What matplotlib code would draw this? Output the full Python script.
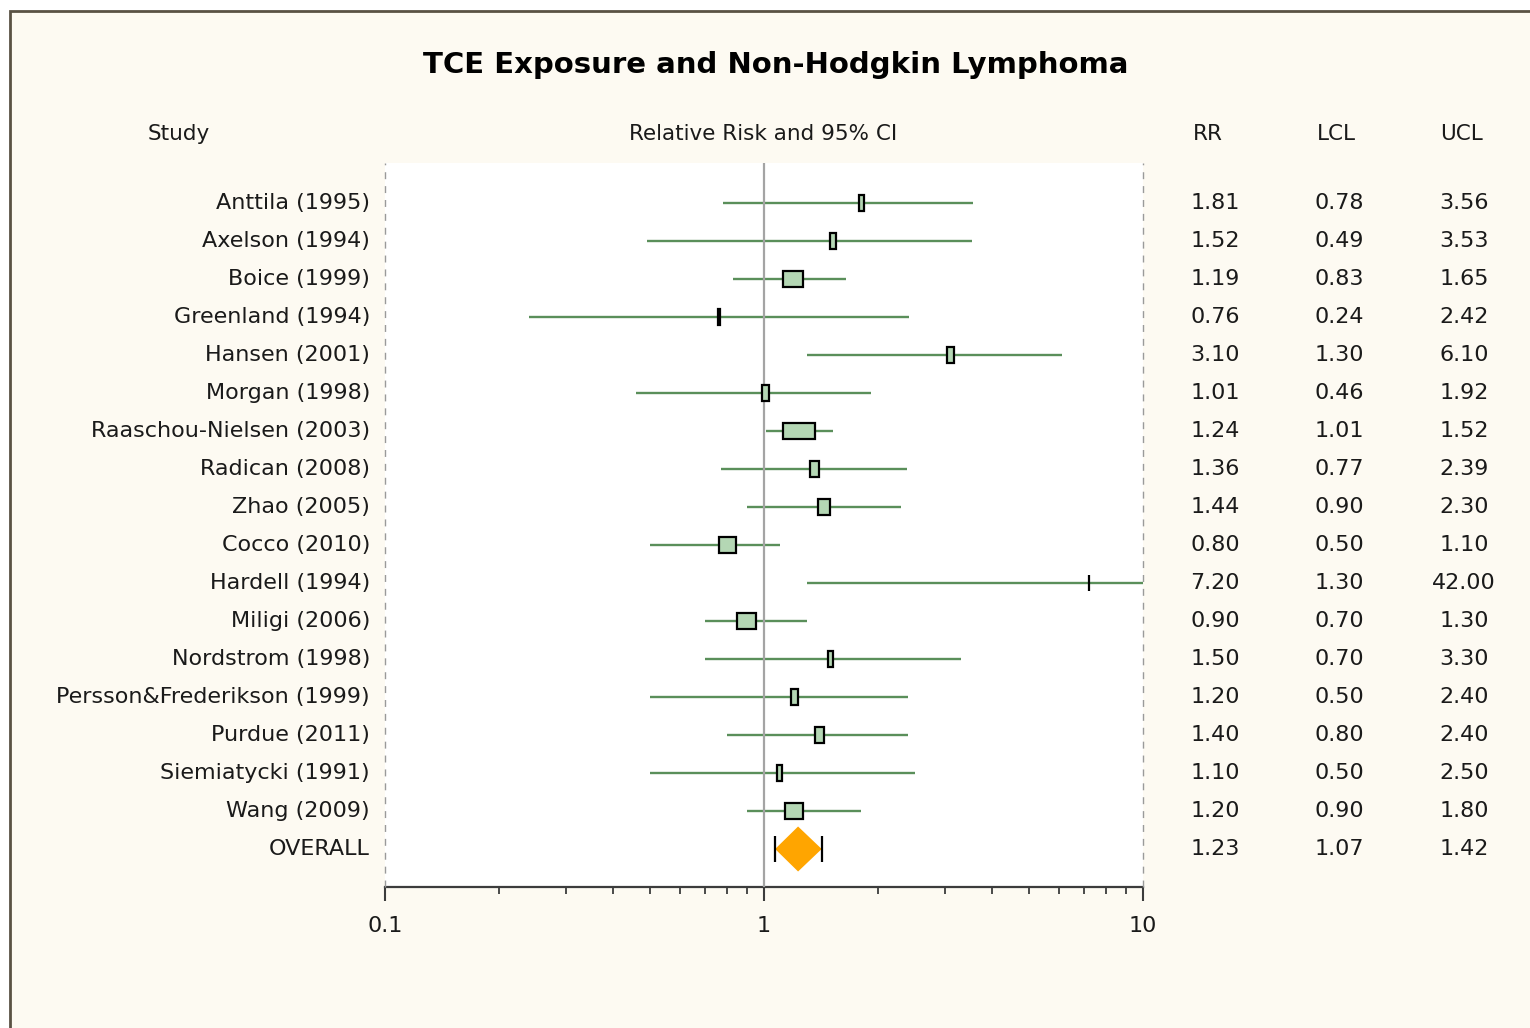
import numpy as np
import matplotlib
matplotlib.use("Agg")
import matplotlib.pyplot as plt
import matplotlib.patches as mpatches
import matplotlib.transforms as mtransforms
from matplotlib.ticker import FixedLocator, LogLocator, NullFormatter, FixedFormatter

# ---- data -------------------------------------------------------------
studies = ["Anttila (1995)", "Axelson (1994)", "Boice (1999)", "Greenland (1994)",
           "Hansen (2001)", "Morgan (1998)", "Raaschou-Nielsen (2003)", "Radican (2008)",
           "Zhao (2005)", "Cocco (2010)", "Hardell (1994)", "Miligi (2006)",
           "Nordstrom (1998)", "Persson&Frederikson (1999)", "Purdue (2011)",
           "Siemiatycki (1991)", "Wang (2009)"]
rr  = [1.81, 1.52, 1.19, 0.76, 3.10, 1.01, 1.24, 1.36, 1.44, 0.80, 7.20, 0.90,
       1.50, 1.20, 1.40, 1.10, 1.20]
lcl = [0.78, 0.49, 0.83, 0.24, 1.30, 0.46, 1.01, 0.77, 0.90, 0.50, 1.30, 0.70,
       0.70, 0.50, 0.80, 0.50, 0.90]
ucl = [3.56, 3.53, 1.65, 2.42, 6.10, 1.92, 1.52, 2.39, 2.30, 1.10, 42.00, 1.30,
       3.30, 2.40, 2.40, 2.50, 1.80]
# relative study weights (percent), used for box size
weights = [3.3, 3.6, 10.3, 2.1, 4.2, 4.2, 15.9, 5.1, 6.5, 8.9, 0.9, 9.8,
           3.3, 4.2, 5.1, 3.3, 9.3]
overall_label = "OVERALL"
overall_rr, overall_lcl, overall_ucl = 1.23, 1.07, 1.42

x_ticks = [0.1, 1, 10]
x_tick_labels = ["0.1", "1", "10"]
headers = ["Study", "Relative Risk and 95% CI", "RR", "LCL", "UCL"]
title = "TCE Exposure and Non-Hodgkin Lymphoma"

# ---- layout -----------------------------------------------------------
W, H, DPI = 1530, 1028, 100
CREAM = "#fdfaf2"
LINE_GREEN = "#5a8f5a"
BOX_GREEN = "#b4d7b4"
TEXT = "#1a1a1a"
FONT = "DejaVu Sans"
FS = 16

plt.rcParams["font.family"] = FONT

fig = plt.figure(figsize=(W / DPI, H / DPI), dpi=DPI, facecolor="white")

# cream panel with dark frame (left and top edges visible)
fig.patches.append(mpatches.Rectangle(
    (9.5 / W, -0.05), 1.2, 1 - 11 / H + 0.05, transform=fig.transFigure,
    facecolor=CREAM, edgecolor="#5a5244", linewidth=2.0, zorder=-5))

ax_l, ax_r, ax_t, ax_b = 385, 1143, 163, 887
ax = fig.add_axes([ax_l / W, 1 - ax_b / H, (ax_r - ax_l) / W, (ax_b - ax_t) / H])
ax.set_facecolor("white")

n = len(studies)
rows = np.arange(n)
overall_row = n
row_px = 38.0
first_row_px = 203
ax.set_xscale("log")
ax.set_xlim(x_ticks[0], x_ticks[-1])
ax.set_ylim((ax_b - first_row_px) / row_px, (ax_t - first_row_px) / row_px)

px_per_dec = (ax_r - ax_l) / np.log10(x_ticks[-1] / x_ticks[0])

def px_to_rows(p):
    return p / row_px

# confidence interval lines
ax.hlines(rows, lcl, ucl, color=LINE_GREEN, linewidth=1.7, zorder=2)

# reference line at RR = 1 and dashed boundary lines
ax.axvline(1, color="#a4a4a4", linewidth=1.6, zorder=3)
for xb in (x_ticks[0], x_ticks[-1]):
    ax.axvline(xb, color="#9a9a9a", linewidth=1.0, dashes=(5, 5), zorder=3,
               clip_on=False)

# weighted boxes
box_h = px_to_rows(16.5)
for r, v, w in zip(rows, rr, weights):
    wpx = max(w * 2.14 - 2.0, 0.0)
    half = wpx / 2 / px_per_dec
    x0 = v * 10 ** (-half)
    x1 = v * 10 ** (half)
    ax.add_patch(mpatches.Rectangle((x0, r - box_h / 2), x1 - x0, box_h,
                                    facecolor=BOX_GREEN, edgecolor="black",
                                    linewidth=1.6, zorder=4))

# overall diamond with CI caps
dh = px_to_rows(22.5)
ax.add_patch(mpatches.Polygon(
    [(overall_lcl, overall_row), (overall_rr, overall_row - dh),
     (overall_ucl, overall_row), (overall_rr, overall_row + dh)],
    closed=True, facecolor="orange", edgecolor="none", zorder=4))
cap = px_to_rows(13)
ax.vlines([overall_lcl, overall_ucl], overall_row - cap, overall_row + cap,
          color="black", linewidth=1.6, zorder=5)

# axes styling
for s in ("left", "right", "top"):
    ax.spines[s].set_visible(False)
ax.spines["bottom"].set_color("#3c3c3c")
ax.spines["bottom"].set_linewidth(1.6)
ax.yaxis.set_visible(False)
ax.xaxis.set_major_locator(FixedLocator(x_ticks))
ax.xaxis.set_major_formatter(FixedFormatter(x_tick_labels))
ax.xaxis.set_minor_locator(LogLocator(base=10, subs=np.arange(2, 10)))
ax.xaxis.set_minor_formatter(NullFormatter())
ax.tick_params(axis="x", which="major", length=10, width=1.5, color="#3c3c3c",
               pad=11, labelsize=FS, labelcolor=TEXT)
ax.tick_params(axis="x", which="minor", length=5, width=1.3, color="#3c3c3c")

# text columns
tr = mtransforms.blended_transform_factory(fig.transFigure, ax.transData)
txt_kw = dict(transform=tr, fontsize=FS, color=TEXT, va="center")
for r, name in enumerate(studies + [overall_label]):
    fig.text(370 / W, r, name, ha="right", **txt_kw)

col_x = [1215, 1339, 1464]
all_rr = rr + [overall_rr]
all_lcl = lcl + [overall_lcl]
all_ucl = ucl + [overall_ucl]
for r in range(n + 1):
    for cx, vals in zip(col_x, (all_rr, all_lcl, all_ucl)):
        fig.text(cx / W, r, f"{vals[r]:.2f}", ha="center", **txt_kw)

head_x = [179, 763, 1208, 1336, 1462]
for hx, h in zip(head_x, headers):
    fig.text(hx / W, 1 - 134 / H, h, ha="center", va="center", fontsize=FS - 0.5,
             color=TEXT)

fig.text(776 / W, 1 - 65 / H, title, ha="center", va="center", fontsize=21,
         fontweight="bold", color="black")

fig.savefig("out.png", dpi=DPI, facecolor=fig.get_facecolor())
